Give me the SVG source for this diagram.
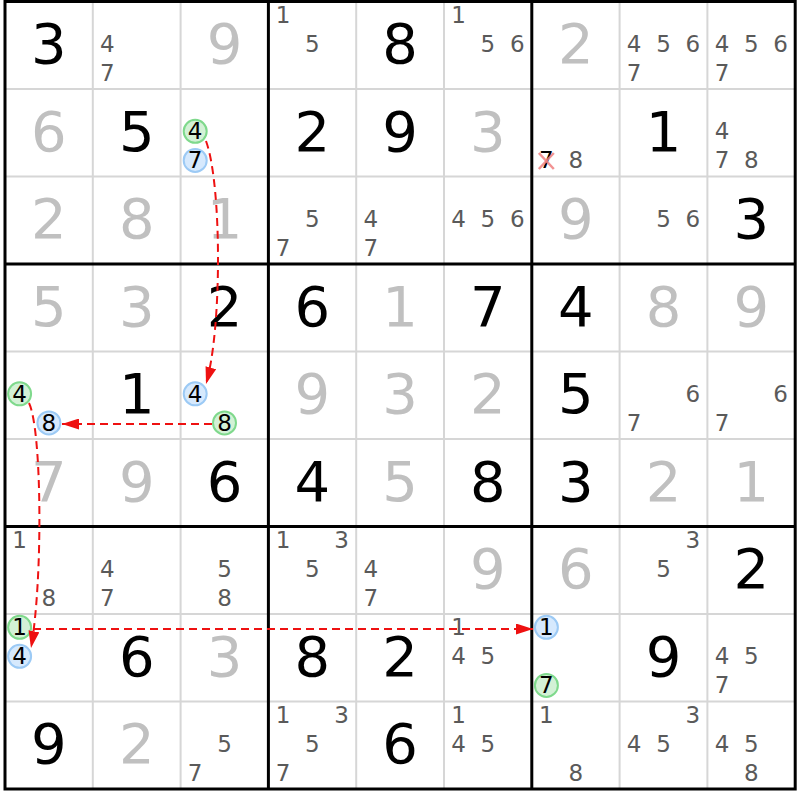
<svg xmlns="http://www.w3.org/2000/svg" width="800" height="800" viewBox="0 0 800 800">
<style>
.b{font-family:"DejaVu Sans",Verdana,sans-serif;font-size:56px;text-anchor:middle;fill:#000}
.p{font-family:"DejaVu Sans",Verdana,sans-serif;font-size:56px;text-anchor:middle;fill:#c0c0c0}
.c{font-family:"DejaVu Sans",Verdana,sans-serif;font-size:23px;text-anchor:middle;fill:#5a5a5a}
.k{font-family:"DejaVu Sans",Verdana,sans-serif;font-size:23px;text-anchor:middle;fill:#000}
.cg{fill:#d3f1d6;stroke:#7fd98c;stroke-width:2}
.cb{fill:#d6e9fd;stroke:#9ccaf5;stroke-width:2}
.thin{stroke:#d6d6d6;stroke-width:2}
.thick{stroke:#000;stroke-width:3}
.lk{fill:none;stroke:#ee1111;stroke-width:2;stroke-dasharray:8 5}
.x{stroke:#f08080;stroke-width:2.5;opacity:0.85}
</style>
<defs>
<marker id="ah" markerWidth="17" markerHeight="11" refX="17" refY="5.5" orient="auto" markerUnits="userSpaceOnUse"><path d="M0,0 L17,5.5 L0,11 z" fill="#ee1111"/></marker>
</defs>
<rect x="0" y="0" width="800" height="800" fill="#fff"/>
<g id="grid">
<line class="thin" x1="92.8" y1="1.5" x2="92.8" y2="789"/>
<line class="thin" x1="180.6" y1="1.5" x2="180.6" y2="789"/>
<line class="thin" x1="356.2" y1="1.5" x2="356.2" y2="789"/>
<line class="thin" x1="444" y1="1.5" x2="444" y2="789"/>
<line class="thin" x1="619.6" y1="1.5" x2="619.6" y2="789"/>
<line class="thin" x1="707.4" y1="1.5" x2="707.4" y2="789"/>
<line class="thin" x1="5" y1="89" x2="795.2" y2="89"/>
<line class="thin" x1="5" y1="176.5" x2="795.2" y2="176.5"/>
<line class="thin" x1="5" y1="351.5" x2="795.2" y2="351.5"/>
<line class="thin" x1="5" y1="439" x2="795.2" y2="439"/>
<line class="thin" x1="5" y1="614" x2="795.2" y2="614"/>
<line class="thin" x1="5" y1="701.5" x2="795.2" y2="701.5"/>
<line class="thick" x1="268.4" y1="1.5" x2="268.4" y2="789"/>
<line class="thick" x1="531.8" y1="1.5" x2="531.8" y2="789"/>
<line class="thick" x1="5" y1="264" x2="795.2" y2="264"/>
<line class="thick" x1="5" y1="526.5" x2="795.2" y2="526.5"/>
<rect class="thick" x="5" y="1.5" width="790.2" height="787.5" fill="none"/>
</g>
<!-- Row 1 -->
<g id="r1c1" transform="translate(5,1.5)"><text class="b" x="43.9" y="61.5">3</text></g>
<g id="r1c2" transform="translate(92.8,1.5)"><text class="c" x="14.6" y="50">4</text><text class="c" x="14.6" y="79">7</text></g>
<g id="r1c3" transform="translate(180.6,1.5)"><text class="p" x="43.9" y="61.5">9</text></g>
<g id="r1c4" transform="translate(268.4,1.5)"><text class="c" x="14.6" y="21">1</text><text class="c" x="43.9" y="50">5</text></g>
<g id="r1c5" transform="translate(356.2,1.5)"><text class="b" x="43.9" y="61.5">8</text></g>
<g id="r1c6" transform="translate(444,1.5)"><text class="c" x="14.6" y="21">1</text><text class="c" x="43.9" y="50">5</text><text class="c" x="73.2" y="50">6</text></g>
<g id="r1c7" transform="translate(531.8,1.5)"><text class="p" x="43.9" y="61.5">2</text></g>
<g id="r1c8" transform="translate(619.6,1.5)"><text class="c" x="14.6" y="50">4</text><text class="c" x="43.9" y="50">5</text><text class="c" x="73.2" y="50">6</text><text class="c" x="14.6" y="79">7</text></g>
<g id="r1c9" transform="translate(707.4,1.5)"><text class="c" x="14.6" y="50">4</text><text class="c" x="43.9" y="50">5</text><text class="c" x="73.2" y="50">6</text><text class="c" x="14.6" y="79">7</text></g>
<!-- Row 2 -->
<g id="r2c1" transform="translate(5,89)"><text class="p" x="43.9" y="61.5">6</text></g>
<g id="r2c2" transform="translate(92.8,89)"><text class="b" x="43.9" y="61.5">5</text></g>
<g id="r2c3" transform="translate(180.6,89)"><circle class="cg" cx="14.6" cy="42.3" r="11.5"/><text class="k" x="14.6" y="50">4</text><circle class="cb" cx="14.6" cy="71.4" r="11.5"/><text class="k" x="14.6" y="79">7</text></g>
<g id="r2c4" transform="translate(268.4,89)"><text class="b" x="43.9" y="61.5">2</text></g>
<g id="r2c5" transform="translate(356.2,89)"><text class="b" x="43.9" y="61.5">9</text></g>
<g id="r2c6" transform="translate(444,89)"><text class="p" x="43.9" y="61.5">3</text></g>
<g id="r2c7" transform="translate(531.8,89)"><text class="k" x="14.6" y="79">7</text><line class="x" x1="7" y1="64" x2="22" y2="80"/><line class="x" x1="22" y1="64" x2="7" y2="80"/><text class="c" x="43.9" y="79">8</text></g>
<g id="r2c8" transform="translate(619.6,89)"><text class="b" x="43.9" y="61.5">1</text></g>
<g id="r2c9" transform="translate(707.4,89)"><text class="c" x="14.6" y="50">4</text><text class="c" x="14.6" y="79">7</text><text class="c" x="43.9" y="79">8</text></g>
<!-- Row 3 -->
<g id="r3c1" transform="translate(5,176.5)"><text class="p" x="43.9" y="61.5">2</text></g>
<g id="r3c2" transform="translate(92.8,176.5)"><text class="p" x="43.9" y="61.5">8</text></g>
<g id="r3c3" transform="translate(180.6,176.5)"><text class="p" x="43.9" y="61.5">1</text></g>
<g id="r3c4" transform="translate(268.4,176.5)"><text class="c" x="43.9" y="50">5</text><text class="c" x="14.6" y="79">7</text></g>
<g id="r3c5" transform="translate(356.2,176.5)"><text class="c" x="14.6" y="50">4</text><text class="c" x="14.6" y="79">7</text></g>
<g id="r3c6" transform="translate(444,176.5)"><text class="c" x="14.6" y="50">4</text><text class="c" x="43.9" y="50">5</text><text class="c" x="73.2" y="50">6</text></g>
<g id="r3c7" transform="translate(531.8,176.5)"><text class="p" x="43.9" y="61.5">9</text></g>
<g id="r3c8" transform="translate(619.6,176.5)"><text class="c" x="43.9" y="50">5</text><text class="c" x="73.2" y="50">6</text></g>
<g id="r3c9" transform="translate(707.4,176.5)"><text class="b" x="43.9" y="61.5">3</text></g>
<!-- Row 4 -->
<g id="r4c1" transform="translate(5,264)"><text class="p" x="43.9" y="61.5">5</text></g>
<g id="r4c2" transform="translate(92.8,264)"><text class="p" x="43.9" y="61.5">3</text></g>
<g id="r4c3" transform="translate(180.6,264)"><text class="b" x="43.9" y="61.5">2</text></g>
<g id="r4c4" transform="translate(268.4,264)"><text class="b" x="43.9" y="61.5">6</text></g>
<g id="r4c5" transform="translate(356.2,264)"><text class="p" x="43.9" y="61.5">1</text></g>
<g id="r4c6" transform="translate(444,264)"><text class="b" x="43.9" y="61.5">7</text></g>
<g id="r4c7" transform="translate(531.8,264)"><text class="b" x="43.9" y="61.5">4</text></g>
<g id="r4c8" transform="translate(619.6,264)"><text class="p" x="43.9" y="61.5">8</text></g>
<g id="r4c9" transform="translate(707.4,264)"><text class="p" x="43.9" y="61.5">9</text></g>
<!-- Row 5 -->
<g id="r5c1" transform="translate(5,351.5)"><circle class="cg" cx="14.6" cy="42.3" r="11.5"/><text class="k" x="14.6" y="50">4</text><circle class="cb" cx="43.9" cy="71.4" r="11.5"/><text class="k" x="43.9" y="79">8</text></g>
<g id="r5c2" transform="translate(92.8,351.5)"><text class="b" x="43.9" y="61.5">1</text></g>
<g id="r5c3" transform="translate(180.6,351.5)"><circle class="cb" cx="14.6" cy="42.3" r="11.5"/><text class="k" x="14.6" y="50">4</text><circle class="cg" cx="43.9" cy="71.4" r="11.5"/><text class="k" x="43.9" y="79">8</text></g>
<g id="r5c4" transform="translate(268.4,351.5)"><text class="p" x="43.9" y="61.5">9</text></g>
<g id="r5c5" transform="translate(356.2,351.5)"><text class="p" x="43.9" y="61.5">3</text></g>
<g id="r5c6" transform="translate(444,351.5)"><text class="p" x="43.9" y="61.5">2</text></g>
<g id="r5c7" transform="translate(531.8,351.5)"><text class="b" x="43.9" y="61.5">5</text></g>
<g id="r5c8" transform="translate(619.6,351.5)"><text class="c" x="73.2" y="50">6</text><text class="c" x="14.6" y="79">7</text></g>
<g id="r5c9" transform="translate(707.4,351.5)"><text class="c" x="73.2" y="50">6</text><text class="c" x="14.6" y="79">7</text></g>
<!-- Row 6 -->
<g id="r6c1" transform="translate(5,439)"><text class="p" x="43.9" y="61.5">7</text></g>
<g id="r6c2" transform="translate(92.8,439)"><text class="p" x="43.9" y="61.5">9</text></g>
<g id="r6c3" transform="translate(180.6,439)"><text class="b" x="43.9" y="61.5">6</text></g>
<g id="r6c4" transform="translate(268.4,439)"><text class="b" x="43.9" y="61.5">4</text></g>
<g id="r6c5" transform="translate(356.2,439)"><text class="p" x="43.9" y="61.5">5</text></g>
<g id="r6c6" transform="translate(444,439)"><text class="b" x="43.9" y="61.5">8</text></g>
<g id="r6c7" transform="translate(531.8,439)"><text class="b" x="43.9" y="61.5">3</text></g>
<g id="r6c8" transform="translate(619.6,439)"><text class="p" x="43.9" y="61.5">2</text></g>
<g id="r6c9" transform="translate(707.4,439)"><text class="p" x="43.9" y="61.5">1</text></g>
<!-- Row 7 -->
<g id="r7c1" transform="translate(5,526.5)"><text class="c" x="14.6" y="21">1</text><text class="c" x="43.9" y="79">8</text></g>
<g id="r7c2" transform="translate(92.8,526.5)"><text class="c" x="14.6" y="50">4</text><text class="c" x="14.6" y="79">7</text></g>
<g id="r7c3" transform="translate(180.6,526.5)"><text class="c" x="43.9" y="50">5</text><text class="c" x="43.9" y="79">8</text></g>
<g id="r7c4" transform="translate(268.4,526.5)"><text class="c" x="14.6" y="21">1</text><text class="c" x="73.2" y="21">3</text><text class="c" x="43.9" y="50">5</text></g>
<g id="r7c5" transform="translate(356.2,526.5)"><text class="c" x="14.6" y="50">4</text><text class="c" x="14.6" y="79">7</text></g>
<g id="r7c6" transform="translate(444,526.5)"><text class="p" x="43.9" y="61.5">9</text></g>
<g id="r7c7" transform="translate(531.8,526.5)"><text class="p" x="43.9" y="61.5">6</text></g>
<g id="r7c8" transform="translate(619.6,526.5)"><text class="c" x="73.2" y="21">3</text><text class="c" x="43.9" y="50">5</text></g>
<g id="r7c9" transform="translate(707.4,526.5)"><text class="b" x="43.9" y="61.5">2</text></g>
<!-- Row 8 -->
<g id="r8c1" transform="translate(5,614)"><circle class="cg" cx="14.6" cy="13.3" r="11.5"/><text class="k" x="14.6" y="21">1</text><circle class="cb" cx="14.6" cy="42.3" r="11.5"/><text class="k" x="14.6" y="50">4</text></g>
<g id="r8c2" transform="translate(92.8,614)"><text class="b" x="43.9" y="61.5">6</text></g>
<g id="r8c3" transform="translate(180.6,614)"><text class="p" x="43.9" y="61.5">3</text></g>
<g id="r8c4" transform="translate(268.4,614)"><text class="b" x="43.9" y="61.5">8</text></g>
<g id="r8c5" transform="translate(356.2,614)"><text class="b" x="43.9" y="61.5">2</text></g>
<g id="r8c6" transform="translate(444,614)"><text class="c" x="14.6" y="21">1</text><text class="c" x="14.6" y="50">4</text><text class="c" x="43.9" y="50">5</text></g>
<g id="r8c7" transform="translate(531.8,614)"><circle class="cb" cx="14.6" cy="13.3" r="11.5"/><text class="k" x="14.6" y="21">1</text><circle class="cg" cx="14.6" cy="71.4" r="11.5"/><text class="k" x="14.6" y="79">7</text></g>
<g id="r8c8" transform="translate(619.6,614)"><text class="b" x="43.9" y="61.5">9</text></g>
<g id="r8c9" transform="translate(707.4,614)"><text class="c" x="14.6" y="50">4</text><text class="c" x="43.9" y="50">5</text><text class="c" x="14.6" y="79">7</text></g>
<!-- Row 9 -->
<g id="r9c1" transform="translate(5,701.5)"><text class="b" x="43.9" y="61.5">9</text></g>
<g id="r9c2" transform="translate(92.8,701.5)"><text class="p" x="43.9" y="61.5">2</text></g>
<g id="r9c3" transform="translate(180.6,701.5)"><text class="c" x="43.9" y="50">5</text><text class="c" x="14.6" y="79">7</text></g>
<g id="r9c4" transform="translate(268.4,701.5)"><text class="c" x="14.6" y="21">1</text><text class="c" x="73.2" y="21">3</text><text class="c" x="43.9" y="50">5</text><text class="c" x="14.6" y="79">7</text></g>
<g id="r9c5" transform="translate(356.2,701.5)"><text class="b" x="43.9" y="61.5">6</text></g>
<g id="r9c6" transform="translate(444,701.5)"><text class="c" x="14.6" y="21">1</text><text class="c" x="14.6" y="50">4</text><text class="c" x="43.9" y="50">5</text></g>
<g id="r9c7" transform="translate(531.8,701.5)"><text class="c" x="14.6" y="21">1</text><text class="c" x="43.9" y="79">8</text></g>
<g id="r9c8" transform="translate(619.6,701.5)"><text class="c" x="73.2" y="21">3</text><text class="c" x="14.6" y="50">4</text><text class="c" x="43.9" y="50">5</text></g>
<g id="r9c9" transform="translate(707.4,701.5)"><text class="c" x="14.6" y="50">4</text><text class="c" x="43.9" y="50">5</text><text class="c" x="43.9" y="79">8</text></g>
<g id="connectors">
<path class="lk" d="M206,141 C222,185 222,330 206,384" marker-end="url(#ah)"/>
<path class="lk" d="M212,424 L62,424" marker-end="url(#ah)"/>
<path class="lk" d="M29,403 C42,430 43,580 31,648" marker-end="url(#ah)"/>
<path class="lk" d="M33,629 L533,629" marker-end="url(#ah)"/>
</g>
</svg>
